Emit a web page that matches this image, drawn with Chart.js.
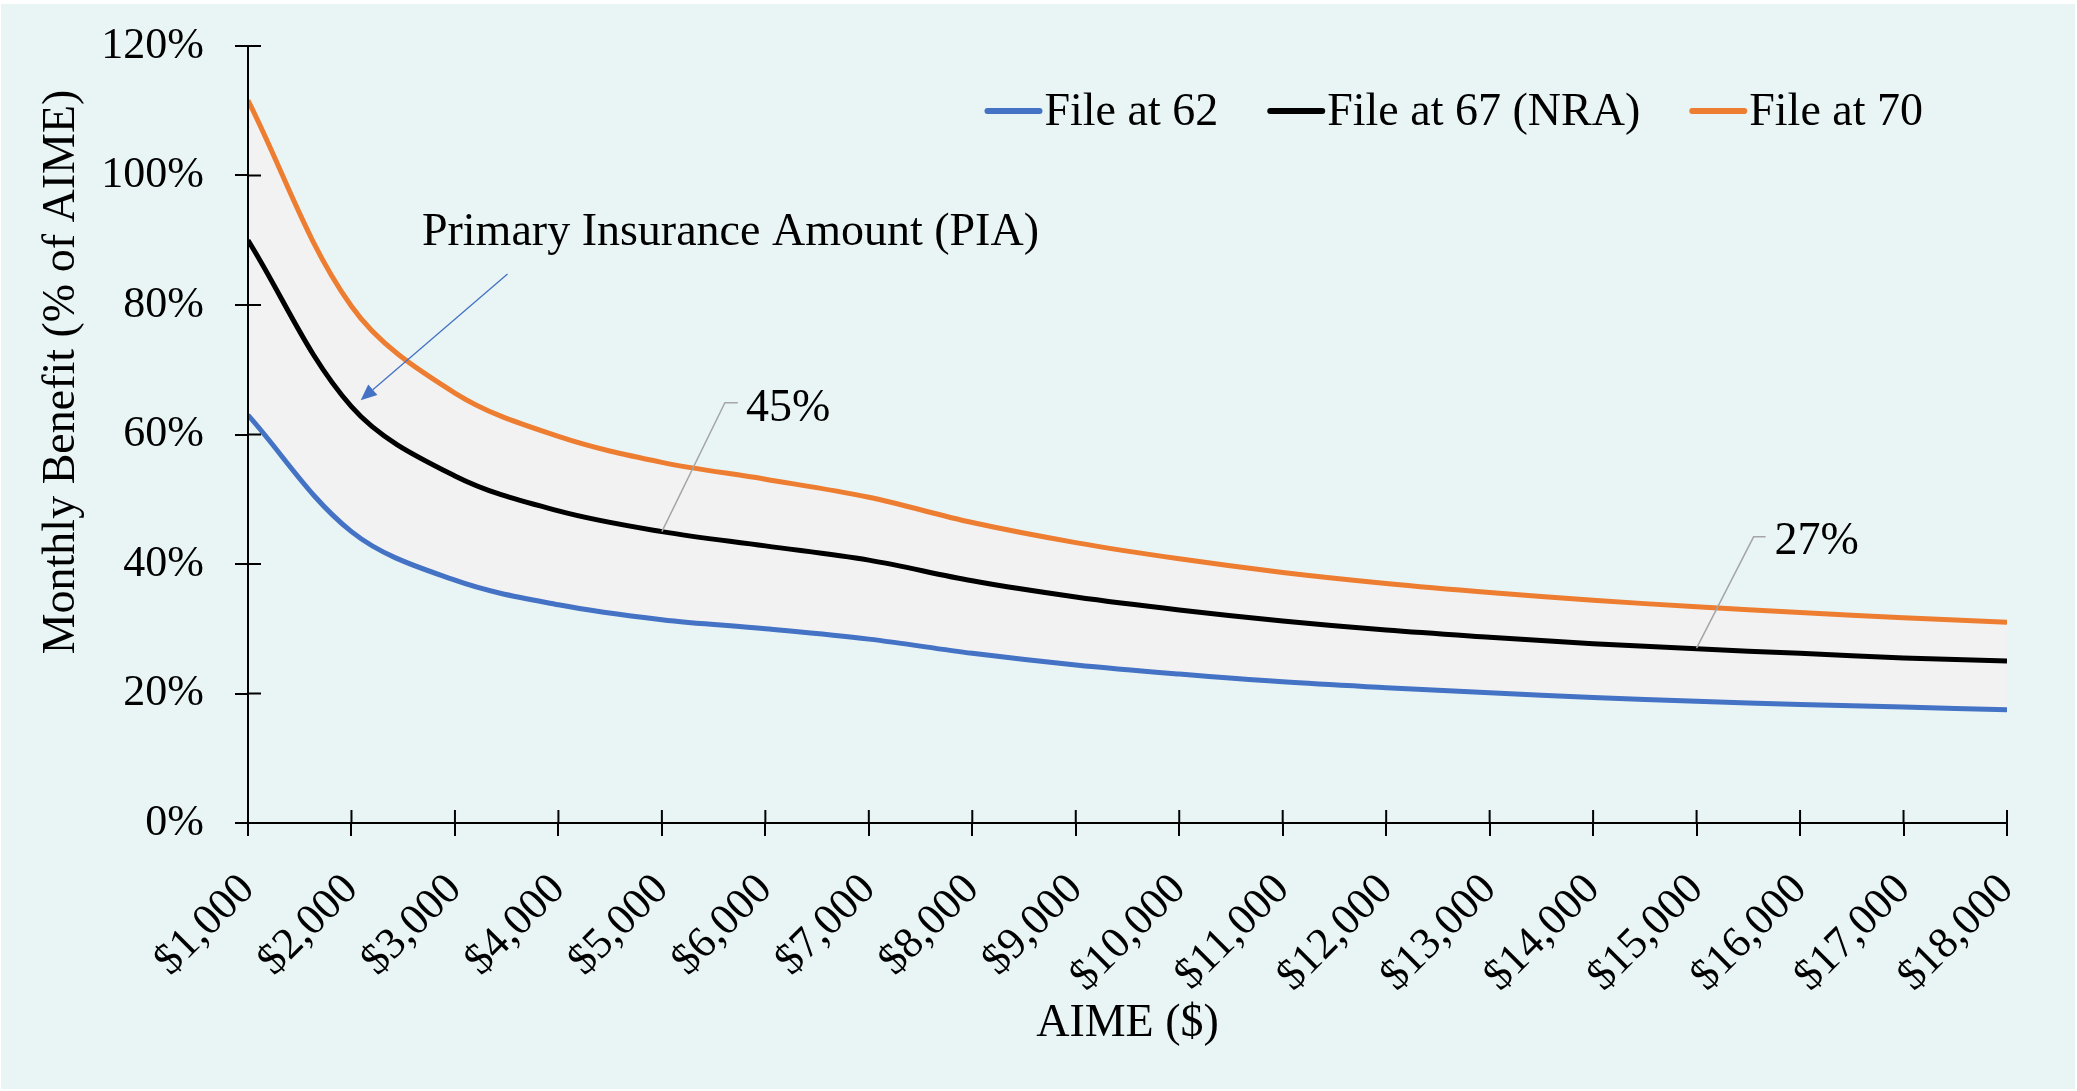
<!DOCTYPE html>
<html><head><meta charset="utf-8">
<script src="https://cdn.jsdelivr.net/npm/chart.js@4.4.0/dist/chart.umd.min.js"></script>
<style>html,body{margin:0;padding:0;background:#fff;overflow:hidden;} #wrap{width:2077px;height:1091px;position:relative;} canvas{display:block;}</style>
</head><body><div id="wrap"><canvas id="c" width="2077" height="1091" style="width:2077px;height:1091px"></canvas></div>
<script>
// ---- data ----
const aime = [1000,2000,3000,4000,5000,6000,7000,8000,9000,10000,11000,12000,13000,14000,15000,16000,17000,18000];
const fileAt62 = [63.0,45.0,37.5,33.7,31.4,30.0,28.4,26.2,24.4,23.0,21.8,20.9,20.1,19.4,18.8,18.3,17.9,17.5];
const fileAt67 = [90.0,64.3,53.6,48.2,45.0,42.8,40.6,37.4,34.9,32.9,31.2,29.8,28.7,27.7,26.9,26.2,25.5,25.0];
const fileAt70 = [111.6,79.8,66.4,59.7,55.7,53.1,50.3,46.4,43.3,40.8,38.7,37.0,35.6,34.4,33.4,32.5,31.7,31.0];
const seriesNames = ['File at 62','File at 67 (NRA)','File at 70'];
const yTickValues = [0,20,40,60,80,100,120];
const yTitle = 'Monthly Benefit (% of AIME)';
const xTitle = 'AIME ($)';
const piaText = 'Primary Insurance Amount (PIA)';
const label45 = '45%';
const label27 = '27%';

const FONT = "'Liberation Serif','Times New Roman',serif";
const COLORS = ['#4472C4','#000000','#ED7D31'];

// annotation anchors in data units (x = AIME, y = %)
const ann = {
  piaText: {x: 2681, y: 89.3},
  piaArrowFrom: {x: 3508, y: 84.8},
  piaArrowTo: {x: 2089, y: 65.3},
  l45: {pt:{x:5000,y:45}, elbow:{x:5609,y:64.9}, end:{x:5734,y:64.9}, text:{x:5812,y:62.1}},
  l27: {pt:{x:15000,y:27}, elbow:{x:15551,y:44.2}, end:{x:15667,y:44.2}, text:{x:15754,y:41.5}}
};

function toXY(arr){ return arr.map((v,i)=>({x:aime[i], y:v})); }

const bgPlugin = {
  id:'bg',
  beforeDraw(chart){
    const c = chart.ctx; c.save();
    c.fillStyle='#ffffff'; c.fillRect(0,0,chart.width,chart.height);
    c.fillStyle='#E9F5F5'; c.fillRect(1,4,2074,1085);
    c.restore();
  }
};

const crossTicks = {
  id:'crossTicks',
  afterDatasetsDraw(chart){
    const {ctx, chartArea:a, scales:{x,y}} = chart;
    ctx.save(); ctx.strokeStyle='#000'; ctx.lineWidth=2;
    ctx.beginPath();
    // axis lines redrawn over the fill
    ctx.moveTo(a.left, y.getPixelForValue(y.max)); ctx.lineTo(a.left, y.getPixelForValue(y.min)+1);
    ctx.moveTo(a.left-1, a.bottom); ctx.lineTo(x.getPixelForValue(x.max), a.bottom);
    y.ticks.forEach(t=>{const py=y.getPixelForValue(t.value); ctx.moveTo(a.left, py); ctx.lineTo(a.left+13, py);});
    x.ticks.forEach(t=>{const px=x.getPixelForValue(t.value); ctx.moveTo(px, a.bottom); ctx.lineTo(px, a.bottom-13);});
    ctx.stroke(); ctx.restore();
  }
};

const textPlugin = {
  id:'texts',
  afterDraw(chart){
    const {ctx, chartArea:a, scales:{x,y}} = chart;
    const P = p => [x.getPixelForValue(p.x), y.getPixelForValue(p.y)];
    ctx.save();
    ctx.fillStyle='#000';
    ctx.font = '46px ' + FONT;
    // y title
    ctx.save();
    ctx.translate(62, 372); ctx.rotate(-Math.PI/2);
    ctx.textAlign='center'; ctx.textBaseline='middle';
    ctx.fillText(yTitle, 0, 0);
    ctx.restore();
    // x title
    ctx.textAlign='center'; ctx.textBaseline='middle';
    ctx.fillText(xTitle, (a.left+a.right)/2, 1024);
    // legend
    ctx.textBaseline='alphabetic'; ctx.textAlign='left';
    const lineW = 58, gap = 2, itemGap = 49;
    const widths = seriesNames.map(n=>ctx.measureText(n).width);
    let total = widths.reduce((s,w)=>s+w,0) + seriesNames.length*(lineW+gap) + (seriesNames.length-1)*itemGap;
    let lx = 1923 - total;
    seriesNames.forEach((n,i)=>{
      ctx.strokeStyle = COLORS[i]; ctx.lineWidth = 6; ctx.lineCap='round';
      ctx.beginPath(); ctx.moveTo(lx+3, 111); ctx.lineTo(lx+lineW-3, 111); ctx.stroke();
      ctx.fillStyle='#000';
      ctx.fillText(n, lx+lineW+gap, 125);
      lx += lineW + gap + widths[i] + itemGap;
    });
    // PIA annotation
    const [tx,ty] = P(ann.piaText);
    ctx.fillText(piaText, tx, ty);
    const [ax0,ay0] = P(ann.piaArrowFrom), [ax1,ay1] = P(ann.piaArrowTo);
    ctx.strokeStyle = '#4472C4'; ctx.lineWidth = 1.3; ctx.lineCap='butt';
    const ang = Math.atan2(ay1-ay0, ax1-ax0);
    const hl = 16, hw = 7;
    const bx = ax1 - Math.cos(ang)*hl, by = ay1 - Math.sin(ang)*hl;
    ctx.beginPath(); ctx.moveTo(ax0,ay0); ctx.lineTo(bx,by); ctx.stroke();
    ctx.fillStyle='#4472C4';
    ctx.beginPath(); ctx.moveTo(ax1,ay1);
    ctx.lineTo(bx - Math.sin(ang)*hw, by + Math.cos(ang)*hw);
    ctx.lineTo(bx + Math.sin(ang)*hw, by - Math.cos(ang)*hw);
    ctx.closePath(); ctx.fill();
    // leader labels
    [[ann.l45,label45],[ann.l27,label27]].forEach(([L,txt])=>{
      const p0=P(L.pt), p1=P(L.elbow), p2=P(L.end), pt=P(L.text);
      ctx.strokeStyle='#A6A6A6'; ctx.lineWidth=1.5;
      ctx.beginPath(); ctx.moveTo(p0[0],p0[1]); ctx.lineTo(p1[0],p1[1]); ctx.lineTo(p2[0],p2[1]); ctx.stroke();
      ctx.fillStyle='#000'; ctx.font='46px '+FONT; ctx.textAlign='left'; ctx.textBaseline='alphabetic';
      ctx.fillText(txt, pt[0], pt[1]);
    });
    ctx.restore();
  }
};

const ds = (i, arr, extra) => Object.assign({
  label: seriesNames[i], data: toXY(arr), borderColor: COLORS[i], backgroundColor: COLORS[i],
  borderWidth: 5, pointRadius: 0, tension: 0.35, fill: false, borderCapStyle:'butt'
}, extra||{});

new Chart(document.getElementById('c'), {
  type: 'line',
  data: { datasets: [
    ds(0, fileAt62),
    ds(1, fileAt67),
    ds(2, fileAt70, {fill: {target: 0}, backgroundColor: '#F2F2F2'})
  ]},
  options: {
    responsive: false, animation: false, devicePixelRatio: 1,
    layout: { padding: {top: 46, right: 70, left: 0, bottom: 0} },
    plugins: { legend: {display:false}, tooltip:{enabled:false}, filler:{drawTime:'beforeDatasetsDraw'} },
    scales: {
      x: {
        type:'linear', min: aime[0], max: aime[aime.length-1],
        afterFit(s){ s.height = 268; s.paddingLeft = 0; s.paddingRight = 0; },
        afterBuildTicks(s){ s.ticks = aime.map(v=>({value:v})); },
        grid: {display:true, drawOnChartArea:false, drawTicks:true, tickLength:13, color:'#000', lineWidth:2},
        border: {display:true, color:'#000', width:2},
        ticks: { autoSkip:false, minRotation:45, maxRotation:45, padding: 28, color:'#000',
          font:{family:FONT, size:44},
          callback: v => '$' + Number(v).toLocaleString('en-US') },
        title: {display:false}
      },
      y: {
        min: 0, max: 120,
        afterFit(s){ s.width = 248; s.paddingTop = 0; s.paddingBottom = 0; },
        afterBuildTicks(s){ s.ticks = yTickValues.map(v=>({value:v})); },
        grid: {display:true, drawOnChartArea:false, drawTicks:true, tickLength:13, color:'#000', lineWidth:2},
        border: {display:true, color:'#000', width:2},
        ticks: { padding: 31, color:'#000', font:{family:FONT, size:44}, callback: v => v + '%' },
        title: {display:false}
      }
    }
  },
  plugins: [bgPlugin, crossTicks, textPlugin]
});
</script>
</body></html>
